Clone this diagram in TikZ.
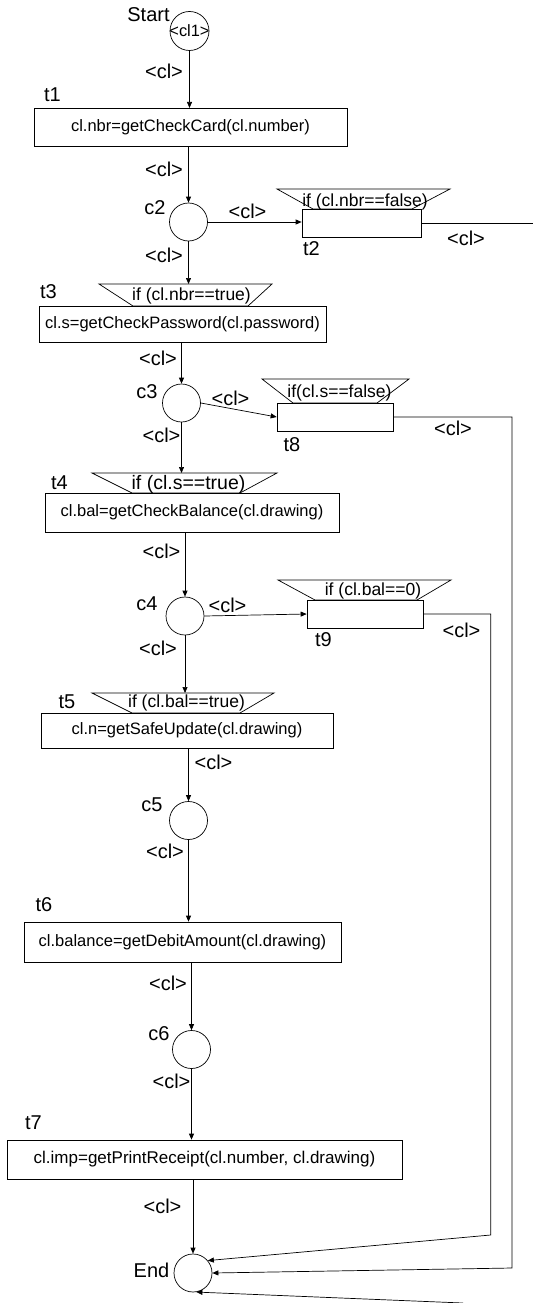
\documentclass[tikz,border=0pt]{standalone}
\usepackage{fontspec}
\setmainfont{Liberation Sans}
\usetikzlibrary{arrows.meta}

\begin{document}
\begin{tikzpicture}[x=1pt,y=-1pt,>={Triangle[length=6pt,width=5pt]},line width=0.7pt,
place/.style={circle,draw,minimum size=38pt,inner sep=0pt},
trans/.style={draw,inner sep=0pt,font=\fontsize{16.5}{18}\selectfont},
cond/.style={inner sep=0pt,font=\fontsize{17.5}{19}\selectfont},
lbl/.style={inner sep=0pt,font=\fontsize{20}{22}\selectfont}]
\useasboundingbox (0,0) rectangle (533,1303);

\node[place,minimum size=39pt,label={[inner sep=0pt,font=\fontsize{16.4}{18}\selectfont]center:<cl1>}] (cl1) at (189.5,31) {};
\node[place] (c2) at (188.5,222) {};
\node[place] (c3) at (181.5,403) {};
\node[place] (c4) at (185,616) {};
\node[place] (c5) at (188.5,820.5) {};
\node[place] (c6) at (191.5,1049.5) {};
\node[place] (End) at (193,1273) {};

\node[trans,minimum width=313pt,minimum height=38.4pt] (t1) at (190.5,127.5) {cl.nbr=getCheckCard(cl.number)};
\node[trans,minimum width=119pt,minimum height=28pt] (t2) at (361.5,223) {};
\node[trans,minimum width=287pt,minimum height=36pt] (t3) at (182.5,324) {cl.s=getCheckPassword(cl.password)};
\node[trans,minimum width=116pt,minimum height=28pt] (t8) at (335,417) {};
\node[trans,minimum width=294pt,minimum height=39pt] (t4) at (192,512.5) {cl.bal=getCheckBalance(cl.drawing)};
\node[trans,minimum width=116pt,minimum height=28pt] (t9) at (365,614) {};
\node[trans,minimum width=292pt,minimum height=35pt] (t5) at (187,730.5) {cl.n=getSafeUpdate(cl.drawing)};
\node[trans,minimum width=317pt,minimum height=40pt] (t6) at (182.5,942) {cl.balance=getDebitAmount(cl.drawing)};
\node[trans,minimum width=395pt,minimum height=39pt,font=\fontsize{17}{19}\selectfont] (t7) at (204.5,1159.5) {cl.imp=getPrintReceipt(cl.number, cl.drawing)};

\draw (313,209) -- (277,189) -- (450,189) -- (412,209) -- cycle;
\draw (133,306) -- (99,284) -- (272,284) -- (248,306) -- cycle;
\draw (293,403) -- (262,379) -- (409,379) -- (377,403) -- cycle;
\draw (132,493) -- (92,473) -- (277,473) -- (240,493) -- cycle;
\draw (315,600) -- (278,580) -- (451,580) -- (417,600) -- cycle;
\draw (132,713) -- (92,693) -- (274,693) -- (240,713) -- cycle;
\coordinate (g3) at (185.5,284);
\coordinate (g4) at (184.5,473);
\coordinate (g5) at (183,693);
\node[cond] (g2txt) at (365,202) {if (cl.nbr==false)};
\node[cond] (g3txt) at (191.5,296) {if (cl.nbr==true)};
\node[cond] (g8txt) at (339.5,393) {if(cl.s==false)};
\node[cond,font=\fontsize{19.5}{21}\selectfont] (g4txt) at (188.5,484) {if (cl.s==true)};
\node[cond] (g9txt) at (373,591) {if (cl.bal==0)};
\node[cond] (g5txt) at (186.5,703) {if (cl.bal==true)};

\node[lbl] (nStart) at (148.5,14.5) {Start};
\node[lbl] (nt1) at (52.5,95) {t1};
\node[lbl] (nc2) at (155,207.5) {c2};
\node[lbl] (nt2) at (311.5,249) {t2};
\node[lbl] (nt3) at (48.5,291.5) {t3};
\node[lbl] (nc3) at (147,391.5) {c3};
\node[lbl] (nt8) at (292,444.5) {t8};
\node[lbl] (nt4) at (59.5,482.5) {t4};
\node[lbl] (nc4) at (147,604) {c4};
\node[lbl] (nt9) at (323.5,640) {t9};
\node[lbl] (nt5) at (67,701.5) {t5};
\node[lbl] (nc5) at (152,805) {c5};
\node[lbl] (nt6) at (44,905) {t6};
\node[lbl] (nc6) at (159,1033.5) {c6};
\node[lbl] (nt7) at (33.5,1122.5) {t7};
\node[lbl] (nEnd) at (151.5,1270) {End};

\node[lbl] (a1) at (164,71.5) {<cl>};
\node[lbl] (a2) at (164,169) {<cl>};
\node[lbl] (a3) at (247.5,211) {<cl>};
\node[lbl] (a4) at (466,238.5) {<cl>};
\node[lbl] (a5) at (164,255) {<cl>};
\node[lbl] (a6) at (158,358.5) {<cl>};
\node[lbl] (a7) at (230.5,398.5) {<cl>};
\node[lbl] (a8) at (453,428.5) {<cl>};
\node[lbl] (a9) at (161.5,435) {<cl>};
\node[lbl] (a10) at (161.5,551.5) {<cl>};
\node[lbl] (a11) at (227.5,605) {<cl>};
\node[lbl] (a12) at (461.5,630) {<cl>};
\node[lbl] (a13) at (158,648.5) {<cl>};
\node[lbl] (a14) at (213.5,762.5) {<cl>};
\node[lbl] (a15) at (165,851.5) {<cl>};
\node[lbl] (a16) at (168,983.5) {<cl>};
\node[lbl] (a17) at (171.5,1081.5) {<cl>};
\node[lbl] (a18) at (162.5,1206.5) {<cl>};

\coordinate (out2) at (533,222.7);
\coordinate (r8) at (512,1268);
\coordinate (r9) at (490.7,1235);
\coordinate (in2) at (463,1303);

\draw[->] (cl1) -- (cl1 |- t1.north);
\draw[->] (c2 |- t1.south) -- (c2);
\draw[->] (c2.east) -- (c2.east -| t2.west);
\draw (t2.east) -- (t2.east -| out2);
\draw[->] (c2) -- (c2 |- g3);
\draw[->] (c3 |- t3.south) -- (c3);
\draw[->] (c3.east) -- (t8.west);
\draw[->] (t8.east) -| (r8) -- (End.east);
\draw[->] (c3) -- (c3 |- g4);
\draw[->] (c4 |- t4.south) -- (c4);
\draw[->] (c4.east) -- (t9.west);
\draw[->] (t9.east) -| (r9) -- (End.40);
\draw[->] (c4) -- (c4 |- g5);
\draw[->] (c5 |- t5.south) -- (c5);
\draw[->] (c5) -- (c5 |- t6.north);
\draw[->] (c6 |- t6.south) -- (c6);
\draw[->] (c6) -- (c6 |- t7.north);
\draw[->] (End |- t7.south) -- (End);
\draw[->] (in2) -- (End.-80);
\end{tikzpicture}
\end{document}
